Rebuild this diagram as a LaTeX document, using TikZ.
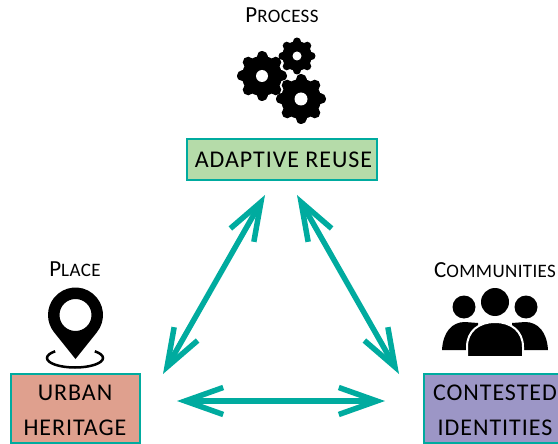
\documentclass[tikz,border=0pt]{standalone}
\usepackage{fontspec}
\setmainfont{Carlito}
\usetikzlibrary{arrows.meta, calc}
\definecolor{tealline}{HTML}{00AB9F}
\definecolor{reusefill}{HTML}{B5DBA9}
\definecolor{urbanfill}{HTML}{DFA08E}
\definecolor{identfill}{HTML}{9C96C6}
\newcommand{\gearicon}[4]{%
  \fill (#1,#2) circle (#3*0.80);
  \foreach \a in {0,45,...,315}
    \draw[line width=#3*0.44pt, line cap=round] (#1,#2) -- ++(\a:#3*0.78);
  \fill[white] (#1,#2) circle (#4);
}
% big first letter, the others a size down
\newcommand{\capname}[2]{#1{\fontsize{19}{24}\selectfont #2}}
\begin{document}
\begin{tikzpicture}[x=1pt,y=-1pt]
\tikzset{
    box/.style={draw=tealline, line width=2pt, align=center, inner sep=0pt,
        font=\fontsize{24}{34.5}\selectfont\addfontfeature{LetterSpace=4}},
    caption/.style={inner sep=0pt, font=\fontsize{23}{24}\selectfont\addfontfeature{LetterSpace=2}},
    link/.style={{Straight Barb[length=38pt,width=27pt]}-{Straight Barb[length=38pt,width=27pt]}, line width=5.5pt, tealline}
}
    \path[use as bounding box, clip] (0,0) rectangle (558,444);

    \node[box, fill=reusefill, minimum width=190pt, minimum height=41pt](Reuse) at (282,159.5) {\hspace{3pt}ADAPTIVE REUSE};
    \node[box, fill=urbanfill, minimum width=129pt, minimum height=69pt](Urban) at (75,408.5) {\rule{0pt}{19pt}URBAN\\HERITAGE};
    \node[box, fill=identfill, minimum width=142pt, minimum height=69pt](Ident) at (495,408.5) {\rule{0pt}{19pt}CONTESTED\\IDENTITIES};

    \node[caption](Process) at (282,15) {\capname{P}{ROCESS}};
    \node[caption](Place) at (75,269) {\capname{P}{LACE}};
    \node[caption](Communities) at (495,270) {\capname{C}{OMMUNITIES}};

    % gears
    \gearicon{262}{76}{25}{6}
    \gearicon{297}{56}{18.5}{4.5}
    \gearicon{301}{99}{25}{6.5}

    % pin
    \fill[even odd rule] (75.5,359) -- ($(75.5,315)+(38.7:27.5)$) arc (38.7:-218.7:27.5) -- cycle
        (75.5,315) circle (16);
    \draw[line width=2.5pt] (75,358) ++(-45:28 and 9.5) arc (-45:225:28 and 9.5);

    % people
    \fill (495,302) circle (14);
    \fill (464,307) circle (11.5);
    \fill (526,307) circle (11.5);
    \fill (442,350) .. controls (443,332) and (452,322) .. (465,322) -- (478,323) -- (478,350) -- cycle;
    \fill (548,350) .. controls (547,332) and (538,322) .. (525,322) -- (512,323) -- (512,350) -- cycle;
    \fill[draw=white, line width=2pt] (467,357) -- (467,347) .. controls (467,331) and (479,322) .. (495,322)
        .. controls (511,322) and (523,331) .. (523,347) -- (523,357) -- cycle;

    \coordinate (ReuseL) at (265,195);
    \coordinate (ReuseR) at (297,195);
    \coordinate (UrbanT) at (163,374);
    \coordinate (IdentT) at (399,374);
    \coordinate (UrbanE) at (177,401);
    \coordinate (IdentW) at (385,401);
    \draw[link] (ReuseL) -- (UrbanT);
    \draw[link] (ReuseR) -- (IdentT);
    \draw[link] (UrbanE) -- (IdentW);
\end{tikzpicture}
\end{document}
